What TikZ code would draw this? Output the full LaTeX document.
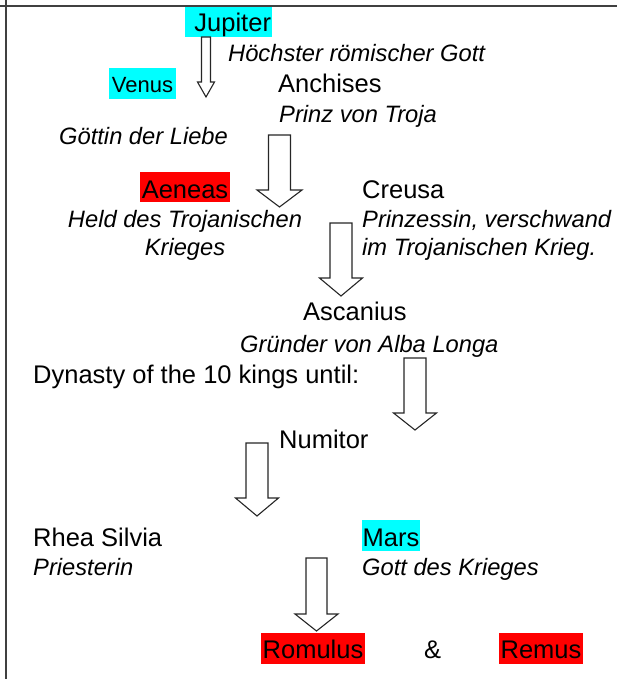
\documentclass[tikz,border=0pt]{standalone}
\usepackage{fontspec}
\setmainfont{Liberation Sans}
\newcommand\namefont{\fontsize{25.5pt}{30pt}\selectfont}
\newcommand\descfont{\fontsize{23.7pt}{28pt}\selectfont\itshape}
\newcommand\venusfont{\fontsize{22pt}{26pt}\selectfont}
\definecolor{hlcyan}{RGB}{0,255,255}
\definecolor{hlred}{RGB}{255,0,0}
\newcommand\blockarr[7]{% name, cx, top, shaft half, head half, head start, tip
  \draw[blockarrow] ({#2-#4},#3) -- ({#2+#4},#3) -- ({#2+#4},#6) -- ({#2+#5},#6)
    -- (#2,#7) coordinate (#1) -- ({#2-#5},#6) -- ({#2-#4},#6) -- cycle;}
\begin{document}
\begin{tikzpicture}[x=1pt,y=-1pt,
  txt/.style={inner sep=0pt, anchor=base west, font=\namefont},
  desc/.style={inner sep=0pt, anchor=base west, font=\descfont},
  hl/.style={inner xsep=0pt, inner ysep=0pt, anchor=base, font=\namefont},
  blockarrow/.style={draw=black!85, fill=white, line width=1.1pt, line join=miter},
  frameline/.style={draw=black!75, line width=1.6pt}]
\useasboundingbox (0,0) rectangle (617,679);
% highlighted names
\node[hl, fill=hlcyan, text width=85pt, minimum width=87pt, align=right, text height=25pt, text depth=5pt] (jupiter) at (228.5,32) {Jupiter};
\node[hl, fill=hlcyan, minimum width=67pt, text height=25pt, text depth=6pt, font=\venusfont] (venus) at (142.5,93) {Venus};
\node[hl, fill=hlred, minimum width=90pt, text height=26pt, text depth=4pt] (aeneas) at (185,198) {Aeneas};
\node[hl, fill=hlcyan, minimum width=58pt, text height=26pt, text depth=5pt] (mars) at (391,546) {Mars};
\node[hl, fill=hlred, minimum width=104pt, text height=25pt, text depth=6pt] (romulus) at (313,658) {Romulus};
\node[hl, fill=hlred, minimum width=84pt, text height=25pt, text depth=6pt] (remus) at (541,658) {Remus};
% frame
\coordinate (ftl) at (0,6);
\coordinate (ftr) at (617,6);
\coordinate (flt) at (6,0);
\coordinate (flb) at (6,679);
\draw[frameline] (ftl) -- (ftr);
\draw[frameline] (flt) -- (flb);
% plain names
\node[txt] (anchises) at (278,93) {Anchises};
\node[txt] (creusa) at (362,198) {Creusa};
\node[txt] (ascanius) at (303,320) {Ascanius};
\node[txt] (dynasty) at (33,383) {Dynasty of the 10 kings until:};
\node[txt] (numitor) at (279,448) {Numitor};
\node[txt] (rhea) at (33,546) {Rhea Silvia};
\node[txt] (amp) at (424,658) {\&};
% descriptions
\node[desc] (jupdesc) at (228,62) {Höchster römischer Gott};
\node[desc] (anchdesc) at (279,123) {Prinz von Troja};
\node[desc] (venusdesc) at (59,145) {Göttin der Liebe};
\node[desc, anchor=base] (aendescA) at (185,227) {Held des Trojanischen};
\node[desc, anchor=base] (aendescB) at (185,255) {Krieges};
\node[desc] (creudescA) at (362,227) {Prinzessin, verschwand};
\node[desc] (creudescB) at (362,255) {im Trojanischen Krieg.};
\node[desc] (ascdesc) at (240,352) {Gründer von Alba Longa};
\node[desc] (rheadesc) at (33,575) {Priesterin};
\node[desc] (marsdesc) at (362,575) {Gott des Krieges};
% block arrows
\blockarr{a1}{206}{37}{4.5}{8.5}{82}{97}
\blockarr{a2}{279.5}{135}{11}{22.5}{190}{207}
\blockarr{a3}{341}{223}{11}{21.5}{278}{296}
\blockarr{a4}{415}{358}{11}{21.5}{413}{430}
\blockarr{a5}{257}{443}{11}{21.5}{498}{516}
\blockarr{a6}{316.5}{558}{10.5}{21.5}{614}{631}
\end{tikzpicture}
\end{document}
